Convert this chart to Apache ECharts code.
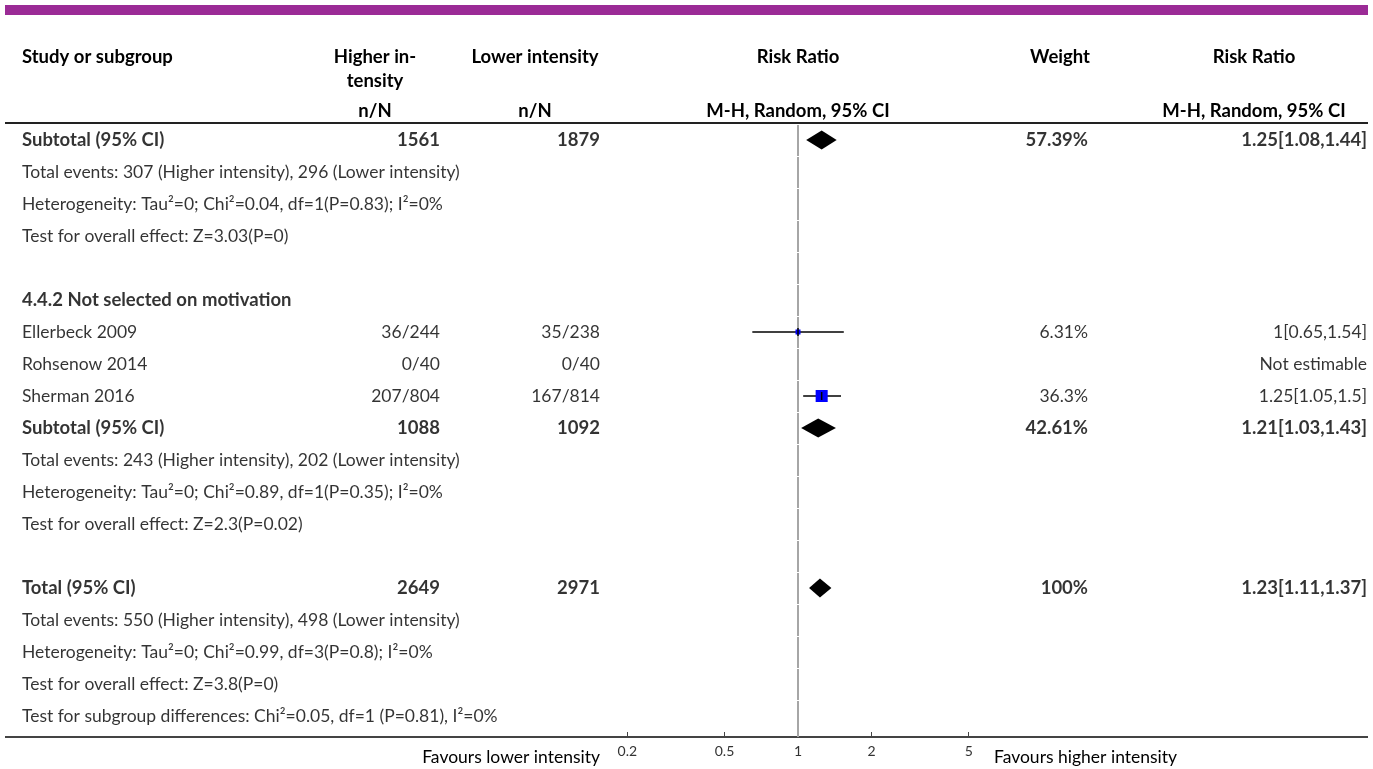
<!DOCTYPE html>
<html>
<head>
<meta charset="utf-8">
<script src="https://cdn.jsdelivr.net/npm/echarts@6/dist/echarts.min.js"></script>
<style>
  html, body { margin: 0; padding: 0; background: #fff; }
  #main { width: 1373px; height: 769px; }
</style>
</head>
<body>
<div id="main"></div>
<script>
// table rows, top to bottom
var studyLabels = [
  'Subtotal (95% CI)',
  'Total events: 307 (Higher intensity), 296 (Lower intensity)',
  'Heterogeneity: Tau\u00b2=0; Chi\u00b2=0.04, df=1(P=0.83); I\u00b2=0%',
  'Test for overall effect: Z=3.03(P=0)',
  '',
  '4.4.2 Not selected on motivation',
  'Ellerbeck 2009',
  'Rohsenow 2014',
  'Sherman 2016',
  'Subtotal (95% CI)',
  'Total events: 243 (Higher intensity), 202 (Lower intensity)',
  'Heterogeneity: Tau\u00b2=0; Chi\u00b2=0.89, df=1(P=0.35); I\u00b2=0%',
  'Test for overall effect: Z=2.3(P=0.02)',
  '',
  'Total (95% CI)',
  'Total events: 550 (Higher intensity), 498 (Lower intensity)',
  'Heterogeneity: Tau\u00b2=0; Chi\u00b2=0.99, df=3(P=0.8); I\u00b2=0%',
  'Test for overall effect: Z=3.8(P=0)',
  'Test for subgroup differences: Chi\u00b2=0.05, df=1 (P=0.81), I\u00b2=0%'
];
var higherN = ['1561', '', '', '', '', '', '36/244', '0/40', '207/804', '1088', '', '', '', '', '2649', '', '', '', ''];
var lowerN = ['1879', '', '', '', '', '', '35/238', '0/40', '167/814', '1092', '', '', '', '', '2971', '', '', '', ''];
var weights = ['57.39%', '', '', '', '', '', '6.31%', '', '36.3%', '42.61%', '', '', '', '', '100%', '', '', '', ''];
var ratioText = ['1.25[1.08,1.44]', '', '', '', '', '', '1[0.65,1.54]', 'Not estimable', '1.25[1.05,1.5]', '1.21[1.03,1.43]', '', '', '', '', '1.23[1.11,1.37]', '', '', '', ''];
var boldRows = [0, 5, 9, 14];

// forest plot marks
var markerRow = [0, 6, 8, 9, 14];
var markerType = ['diamond', 'square', 'square', 'diamond', 'diamond'];
var markerEst = [1.25, 1, 1.25, 1.21, 1.23];
var markerLo = [1.08, 0.65, 1.05, 1.03, 1.11];
var markerHi = [1.44, 1.54, 1.5, 1.43, 1.37];
var markerWeight = [57.39, 6.31, 36.3, 42.61, 100];

var xTicks = [0.2, 0.5, 1, 2, 5];

var FONT = 'Lato';
var FS = 17.5;
var BOLD_FS = 18.5;
var ROW_TOP = 124, ROW_H = 32, AXIS_Y = 737;
var yMax = -0.5 + (AXIS_Y - ROW_TOP) / ROW_H;
var SQUARE_K = 2.0; // px per sqrt(weight%)

var myChart = echarts.init(document.getElementById('main'));

function textSeries(col, x, align) {
  var data = [];
  col.forEach(function (t, i) {
    if (t === '') return;
    var bold = boldRows.indexOf(i) >= 0;
    data.push({
      value: [x, i],
      label: { fontWeight: bold ? 'bold' : 'normal', fontSize: bold ? BOLD_FS : FS }
    });
  });
  return {
    type: 'scatter',
    xAxisIndex: 0,
    yAxisIndex: 0,
    symbolSize: 0,
    silent: true,
    data: data,
    label: {
      show: true,
      position: 'inside',
      align: align,
      verticalAlign: 'middle',
      formatter: function (p) { return col[p.data.value[1]]; },
      color: '#000',
      fontFamily: FONT
    }
  };
}

function headText(text, x, y, align, bold, size) {
  return {
    type: 'text',
    x: x,
    y: y,
    style: {
      text: text,
      align: align,
      verticalAlign: 'middle',
      fill: '#000',
      fontFamily: FONT,
      fontSize: size || BOLD_FS,
      fontWeight: bold ? 'bold' : 'normal'
    }
  };
}

var refRows = [];
for (var r = 0; r < studyLabels.length; r++) refRows.push([1, r]);

var option = {
  animation: false,
  backgroundColor: '#fff',
  grid: [
    { left: 0, right: 0, top: ROW_TOP, height: AXIS_Y - ROW_TOP },
    { left: 617.2, width: 361.6, top: ROW_TOP, height: AXIS_Y - ROW_TOP }
  ],
  xAxis: [
    { type: 'value', gridIndex: 0, min: 0, max: 1373, show: false },
    {
      type: 'log',
      logBase: 10,
      gridIndex: 1,
      min: 1 / 5.5,
      max: 5.5,
      position: 'bottom',
      axisLine: { show: true, onZero: false, lineStyle: { color: '#444', width: 2 } },
      axisTick: { show: true, inside: true, length: 5, customValues: xTicks, lineStyle: { color: '#444' } },
      axisLabel: {
        customValues: xTicks,
        margin: 7,
        fontSize: 14,
        fontFamily: FONT,
        color: '#333',
        formatter: function (v) { return String(v); }
      },
      splitLine: { show: false },
      minorTick: { show: false }
    }
  ],
  yAxis: [
    { type: 'value', gridIndex: 0, min: -0.5, max: yMax, inverse: true, show: false },
    { type: 'value', gridIndex: 1, min: -0.5, max: yMax, inverse: true, show: false }
  ],
  graphic: [
    { type: 'rect', shape: { x: 5, y: 5, width: 1363, height: 10 }, style: { fill: '#9b2b96' } },
    { type: 'line', shape: { x1: 5, y1: 123, x2: 1368, y2: 123 }, style: { stroke: '#222', lineWidth: 2 } },
    { type: 'line', shape: { x1: 5, y1: AXIS_Y, x2: 1368, y2: AXIS_Y }, style: { stroke: '#444', lineWidth: 2 }, z: -1 },
    headText('Study or subgroup', 22, 57, 'left', true),
    headText('Higher in-', 375, 57, 'center', true),
    headText('tensity', 375, 81, 'center', true),
    headText('Lower intensity', 535, 57, 'center', true),
    headText('n/N', 375, 111, 'center', true),
    headText('n/N', 535, 111, 'center', true),
    headText('Risk Ratio', 798, 57, 'center', true),
    headText('M-H, Random, 95% CI', 798, 111, 'center', true),
    headText('Weight', 1060, 57, 'center', true),
    headText('Risk Ratio', 1254, 57, 'center', true),
    headText('M-H, Random, 95% CI', 1254, 111, 'center', true),
    headText('Favours lower intensity', 600, 757, 'right', false, FS),
    headText('Favours higher intensity', 994, 757, 'left', false, FS)
  ],
  series: [
    textSeries(studyLabels, 22, 'left'),
    textSeries(higherN, 440, 'right'),
    textSeries(lowerN, 600, 'right'),
    textSeries(weights, 1088, 'right'),
    textSeries(ratioText, 1367, 'right'),
    {
      // line of no effect, drawn row by row
      type: 'custom',
      xAxisIndex: 1,
      yAxisIndex: 1,
      silent: true,
      data: refRows,
      renderItem: function (params, api) {
        var row = api.value(1);
        var top = api.coord([1, row - 0.5]);
        var bot = api.coord([1, row === studyLabels.length - 1 ? yMax : row + 0.5]);
        return {
          type: 'line',
          shape: { x1: top[0], y1: top[1] + 1, x2: bot[0], y2: bot[1] },
          style: { stroke: '#a6a6a6', lineWidth: 2 }
        };
      }
    },
    {
      type: 'custom',
      xAxisIndex: 1,
      yAxisIndex: 1,
      silent: true,
      data: markerRow.map(function (row, i) {
        return [markerEst[i], row, markerLo[i], markerHi[i], markerWeight[i]];
      }),
      renderItem: function (params, api) {
        var i = params.dataIndex;
        var row = api.value(1);
        var c = api.coord([api.value(0), row]);
        var l = api.coord([api.value(2), row]);
        var h = api.coord([api.value(3), row]);
        if (markerType[i] === 'diamond') {
          return {
            type: 'polygon',
            shape: { points: [[l[0], c[1]], [c[0], c[1] - 9.5], [h[0], c[1]], [c[0], c[1] + 9.5]] },
            style: { fill: '#000' }
          };
        }
        var s = SQUARE_K * Math.sqrt(api.value(4));
        return {
          type: 'group',
          children: [
            { type: 'line', shape: { x1: l[0], y1: c[1], x2: h[0], y2: c[1] }, style: { stroke: '#000', lineWidth: 1.5 } },
            { type: 'rect', shape: { x: c[0] - s / 2, y: c[1] - s / 2, width: s, height: s }, style: { fill: '#0000ff' } },
            { type: 'line', shape: { x1: c[0], y1: c[1] - 4, x2: c[0], y2: c[1] + 4 }, style: { stroke: '#000', lineWidth: 1.5 } }
          ]
        };
      }
    }
  ]
};

myChart.setOption(option);
</script>
</body>
</html>
